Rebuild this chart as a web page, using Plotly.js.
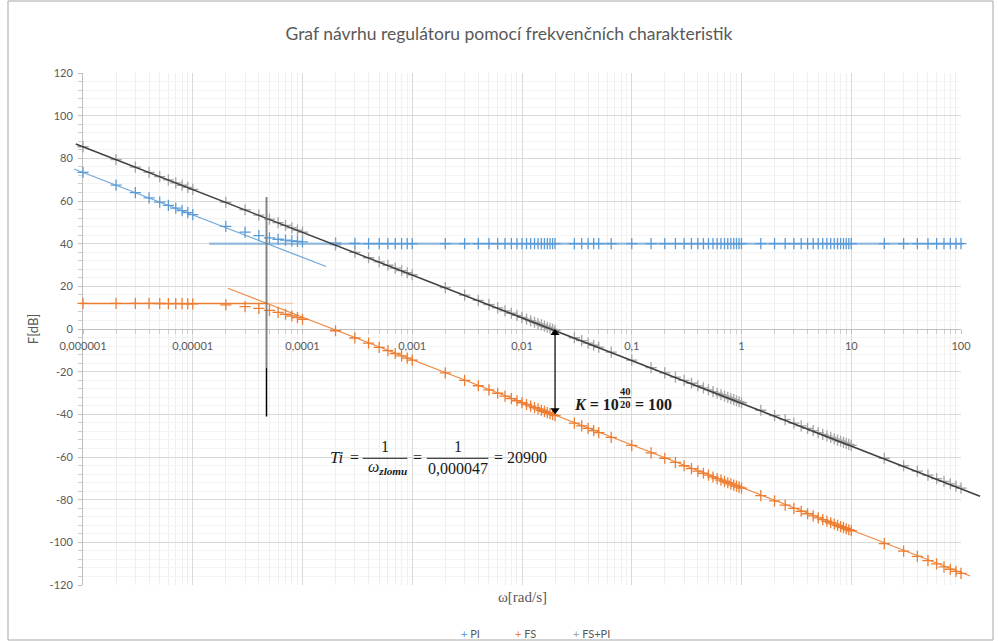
<!DOCTYPE html>
<html>
<head>
<meta charset="utf-8">
<script src="https://cdn.plot.ly/plotly-3.0.1.min.js"></script>
<style>html,body{margin:0;padding:0;background:#fff;}#chart{width:998px;height:641px;}</style>
</head>
<body>
<div id="chart"></div>
<script>
// ---- data ----
const omega = [
  1e-6,2e-6,3e-6,4e-6,5e-6,6e-6,7e-6,8e-6,9e-6,
  1e-5,2e-5,3e-5,4e-5,5e-5,6e-5,7e-5,8e-5,9e-5,
  1e-4,2e-4,3e-4,4e-4,5e-4,6e-4,7e-4,8e-4,9e-4,
  1e-3,2e-3,3e-3,4e-3,5e-3,6e-3,7e-3,8e-3,9e-3,
  0.010,0.011,0.012,0.013,0.014,0.015,0.016,0.017,0.018,0.019,0.020,
  0.03,0.035,0.04,0.045,0.05,0.065,
  0.10,0.15,0.20,0.25,0.30,0.35,0.40,0.45,0.50,0.55,0.60,0.65,0.70,0.75,0.80,0.85,0.90,0.95,
  1,1.5,2,2.5,3,3.5,4,4.5,5,5.5,6,6.5,7,7.5,8,8.5,9,9.5,
  10,20,30,40,50,60,70,80,90,100
];
const piDb = [
  73.44,67.43,63.92,61.43,59.51,57.95,56.64,55.50,54.52,
  53.63,48.14,45.38,43.77,42.75,42.08,41.62,41.29,41.05,
  40.87,40.23,40.10,40.06,40.04,40.03,40.02,40.02,40.01,
  40.01,40,40,40,40,40,40,40,40,
  40,40,40,40,40,40,40,40,40,40,40,
  40,40,40,40,40,40,
  40,40,40,40,40,40,40,40,40,40,40,40,40,40,40,40,40,40,
  40,40,40,40,40,40,40,40,40,40,40,40,40,40,40,40,40,40,
  40,40,40,40,40,40,40,40,40,40
];
const fsDb = [
  12.00,11.99,11.98,11.97,11.95,11.93,11.90,11.88,11.84,
  11.81,11.28,10.52,9.63,8.71,7.80,6.92,6.09,5.31,
  4.58,-0.81,-4.21,-6.66,-8.58,-10.15,-11.48,-12.64,-13.65,
  -14.57,-20.58,-24.10,-26.60,-28.54,-30.12,-31.46,-32.62,-33.64,
  -34.56,-35.39,-36.14,-36.84,-37.48,-38.08,-38.64,-39.17,-39.66,-40.13,-40.58,
  -44.10,-45.44,-46.60,-47.62,-48.54,-50.82,
  -54.56,-58.08,-60.58,-62.52,-64.10,-65.44,-66.60,-67.62,-68.54,-69.37,-70.12,-70.82,-71.46,-72.06,-72.62,-73.15,-73.64,-74.11,
  -74.56,-78.08,-80.58,-82.52,-84.10,-85.44,-86.60,-87.62,-88.54,-89.37,-90.12,-90.82,-91.46,-92.06,-92.62,-93.15,-93.64,-94.11,
  -94.56,-100.58,-104.10,-106.60,-108.54,-110.12,-111.46,-112.62,-113.64,-114.56
];
const fsPiDb = [
  85.44,79.42,75.90,73.40,71.46,69.88,68.54,67.38,66.36,
  65.44,59.42,55.90,53.40,51.46,49.88,48.54,47.38,46.36,
  45.44,39.42,35.90,33.40,31.46,29.88,28.54,27.38,26.36,
  25.44,19.42,15.90,13.40,11.46,9.88,8.54,7.38,6.36,
  5.44,4.61,3.86,3.16,2.52,1.92,1.36,0.83,0.34,-0.13,-0.58,
  -4.10,-5.44,-6.60,-7.62,-8.54,-10.82,
  -14.56,-18.08,-20.58,-22.52,-24.10,-25.44,-26.60,-27.62,-28.54,-29.37,-30.12,-30.82,-31.46,-32.06,-32.62,-33.15,-33.64,-34.11,
  -34.56,-38.08,-40.58,-42.52,-44.10,-45.44,-46.60,-47.62,-48.54,-49.37,-50.12,-50.82,-51.46,-52.06,-52.62,-53.15,-53.64,-54.11,
  -54.56,-60.58,-64.10,-66.60,-68.54,-70.12,-71.46,-72.62,-73.64,-74.56
];
// hand-drawn construction lines (end points)
const fsPiLineX = [8.6e-7, 149];     const fsPiLineY = [86.7, -78.4];
const piLowX = [8.3e-7, 1.64e-4];    const piLowY = [75.0, 29.3];
const piHighX = [1.41e-5, 105];      const piHighY = [40, 40];
const fsLowX = [9.4e-7, 4.7e-5];     const fsLowY = [12, 12];
const fsLowPaleX = [4.7e-5, 8.2e-5]; const fsLowPaleY = [12, 12];
const fsSlopeX = [2.09e-5, 121];     const fsSlopeY = [19.1, -115.8];
const breakX = [4.7e-5, 4.7e-5];     const breakUpperY = [61.9, -18.3]; const breakLowerY = [-18.3, -41];
const arrowX = [0.02, 0.02];         const arrowY = [0, -40];

const xTickVals = [1e-6,1e-5,1e-4,1e-3,0.01,0.1,1,10,100];
const xTickText = ['0,000001','0,00001','0,0001','0,001','0,01','0,1','1','10','100'];
const yTickVals = [-120,-100,-80,-60,-40,-20,0,20,40,60,80,100,120];
const yTickText = ['-120','-100','-80','-60','-40','-20','0','20','40','60','80','100','120'];

const seriesNames = ['PI','FS','FS+PI'];
const seriesColors = ['#5B9BD5','#ED7D31','#A5A5A5'];

// ---- geometry helpers ----
const W = 998, H = 641, ML = 70, MR = 10, MT = 73, MB = 56;
const PW = W - ML - MR, PH = H - MT - MB;
const px = v => (v - ML) / PW;
const py = v => (H - MB - v) / PH;
const plotL = 83, plotR = 961, dec = (plotR - plotL) / 8;
const dbPerPx = 240 / PH;

const minorX = [];
for (let d = -6; d < 2; d++) for (let k = 2; k < 10; k++) minorX.push(k * Math.pow(10, d));

const mk = (i) => ({
  x: omega, y: [piDb, fsDb, fsPiDb][i], name: seriesNames[i], type: 'scatter', mode: 'markers',
  xaxis: 'x2', yaxis: 'y2', cliponaxis: false, hoverinfo: 'x+y+name',
  marker: {symbol: 'cross-thin-open', size: 8, color: seriesColors[i], line: {width: 1.3, color: seriesColors[i]}}
});
const ln = (x, y, color, width) => ({
  x: x, y: y, type: 'scatter', mode: 'lines', xaxis: 'x2', yaxis: 'y2', hoverinfo: 'skip', showlegend: false,
  line: {color: color, width: width}
});

const headOff = 4 * dbPerPx;  // half-height of the arrow-head triangle in dB
const traces = [
  {x: [1e-3], y: [0], type: 'scatter', mode: 'markers', marker: {opacity: 0}, hoverinfo: 'skip', showlegend: false},
  mk(0), mk(1), mk(2),
  ln(piHighX, piHighY, 'rgba(91,155,213,0.55)', 2.5),
  ln(piLowX, piLowY, 'rgba(91,155,213,0.85)', 1.3),
  ln(fsLowX, fsLowY, '#ED7D31', 1.5),
  ln(fsLowPaleX, fsLowPaleY, 'rgba(237,125,49,0.35)', 1.5),
  ln(fsSlopeX, fsSlopeY, 'rgba(237,125,49,0.9)', 1.1),
  ln(fsPiLineX, fsPiLineY, '#404040', 1.5),
  ln(breakX, breakUpperY, 'rgba(110,110,110,0.85)', 2),
  ln(breakX, breakLowerY, '#000000', 1.5),
  // K double arrow
  ln(arrowX, [arrowY[0] - headOff, arrowY[1] + headOff], '#000000', 1.2),
  {x: arrowX, y: [arrowY[0] - headOff, arrowY[1] + headOff], type: 'scatter', mode: 'markers',
   xaxis: 'x2', yaxis: 'y2', hoverinfo: 'skip', showlegend: false, cliponaxis: false,
   marker: {symbol: ['triangle-up', 'triangle-down'], size: 8, color: '#000000', line: {width: 0}}}
];

const serif = 'Liberation Serif, Times New Roman, serif';
const sans = 'Lato, Open Sans, sans-serif';
const txt = (text, x, y, size, opts) => Object.assign({
  text: text, xref: 'paper', yref: 'paper', x: px(x), y: py(y), xanchor: 'center', yanchor: 'middle',
  showarrow: false, font: {family: serif, size: size, color: '#1a1a1a'}
}, opts || {});

const annotations = [
  // x axis title
  txt('ω[rad/s]', 522, 596.5, 15, {font: {family: serif, size: 15, color: '#595959'}}),
  // legend
  txt('<span style="color:#5B9BD5">+</span> PI', 459, 633, 11, {xanchor: 'left', font: {family: sans, size: 11, color: '#595959'}}),
  txt('<span style="color:#ED7D31">+</span> FS', 512.5, 633, 11, {xanchor: 'left', font: {family: sans, size: 11, color: '#595959'}}),
  txt('<span style="color:#A5A5A5">+</span> FS+PI', 571, 633, 11, {xanchor: 'left', font: {family: sans, size: 11, color: '#595959'}}),
  // Ti formula
  txt('<i>Ti</i>', 337, 457, 17),
  txt('=', 354, 457, 16),
  txt('1', 385, 446.5, 16),
  txt('<i>ω</i><sub><b><i>zlomu</i></b></sub>', 387, 467.5, 16),
  txt('=', 417.5, 457, 16),
  txt('1', 457.5, 446.5, 16),
  txt('0,000047', 457.5, 468, 16),
  txt('= 20900', 520, 457, 16),
  // K formula
  txt('<b><i>K</i> = 10</b>', 571.5, 404, 16, {xanchor: 'left'}),
  txt('<b>40</b>', 625, 391, 10.5),
  txt('<b>20</b>', 625, 404, 10.5),
  txt('<b>= 100</b>', 633, 404, 16, {xanchor: 'left'})
];

const shapes = [
  {type: 'rect', xref: 'paper', yref: 'paper', x0: px(8), x1: px(993), y0: py(640), y1: py(1), line: {color: '#a6a6a6', width: 1}},
  {type: 'line', xref: 'paper', yref: 'paper', x0: px(362.7), x1: px(407.3), y0: py(458.3), y1: py(458.3), line: {color: '#1a1a1a', width: 1}},
  {type: 'line', xref: 'paper', yref: 'paper', x0: px(426.7), x1: px(488.3), y0: py(458.3), y1: py(458.3), line: {color: '#1a1a1a', width: 1}},
  {type: 'line', xref: 'paper', yref: 'paper', x0: px(619), x1: px(631), y0: py(397.7), y1: py(397.7), line: {color: '#1a1a1a', width: 1}}
];

const tickFont = {family: sans, size: 11, color: '#595959'};
const layout = {
  width: W, height: H, margin: {l: ML, r: MR, t: MT, b: MB, autoexpand: false},
  paper_bgcolor: '#ffffff', plot_bgcolor: 'rgba(0,0,0,0)', showlegend: false,
  title: {text: 'Graf návrhu regulátoru pomocí frekvenčních charakteristik', xref: 'container', yref: 'container',
          x: 509 / W, y: 1 - 34 / H, xanchor: 'center', yanchor: 'middle',
          font: {family: sans, size: 17.5, color: '#595959'}},
  xaxis: {type: 'log', range: [-6, 2], domain: [px(plotL), px(plotR)], anchor: 'free', position: 0.5,
          showline: true, linecolor: '#bfbfbf', linewidth: 1, zeroline: false,
          tickmode: 'array', tickvals: xTickVals, ticktext: xTickText, ticks: 'outside', ticklen: 4,
          tickcolor: '#bfbfbf', tickfont: tickFont, ticklabelstandoff: 3,
          showgrid: true, gridcolor: '#d9d9d9', gridwidth: 1,
          minor: {tickmode: 'array', tickvals: minorX, showgrid: true, gridcolor: '#efefef', gridwidth: 1,
                  ticks: 'outside', ticklen: 4, tickcolor: '#cfcfcf'},
          fixedrange: true},
  yaxis: {range: [-120, 120], domain: [0, 1], anchor: 'x', side: 'left',
          showline: true, linecolor: '#bfbfbf', linewidth: 1, zeroline: false,
          tickmode: 'array', tickvals: yTickVals, ticktext: yTickText, ticks: 'outside', ticklen: 4,
          tickcolor: '#bfbfbf', tickfont: tickFont, ticklabelstandoff: 3,
          showgrid: true, gridcolor: '#d9d9d9', gridwidth: 1,
          minor: {dtick: 4, tick0: 0, showgrid: true, gridcolor: '#f4f4f4', gridwidth: 1,
                  ticks: 'outside', ticklen: 4, tickcolor: '#cfcfcf'},
          title: {text: 'F[dB]', font: {family: sans, size: 13, color: '#595959'}, standoff: 8},
          fixedrange: true},
  xaxis2: {type: 'log', domain: [0, 1], anchor: 'y2', visible: false, fixedrange: true,
           range: [-6 - (plotL - ML) / dec, 2 + (W - MR - plotR) / dec]},
  yaxis2: {range: [-120, 120], domain: [0, 1], anchor: 'x2', visible: false, fixedrange: true},
  annotations: annotations,
  shapes: shapes
};

Plotly.newPlot('chart', traces, layout, {displayModeBar: false, staticPlot: true});
</script>
</body>
</html>
